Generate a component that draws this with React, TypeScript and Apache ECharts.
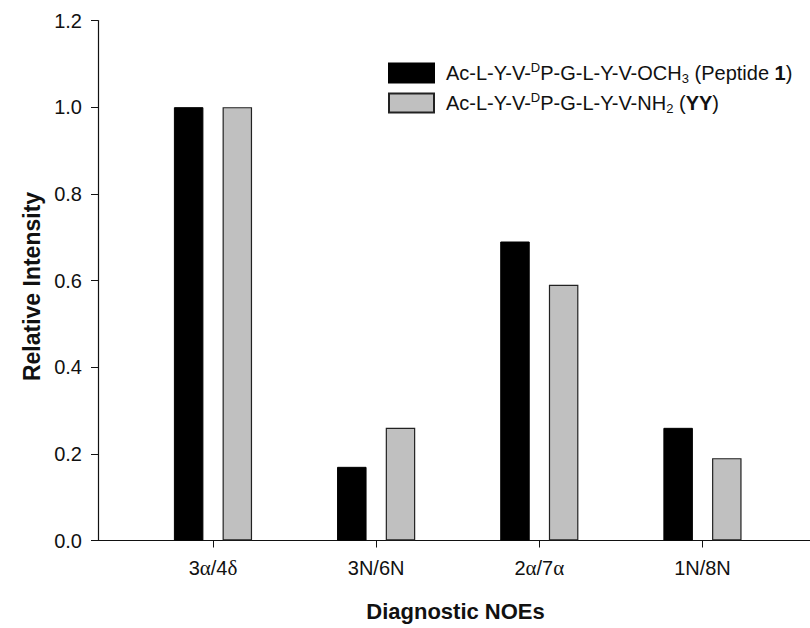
import React, { useEffect, useRef } from "react";
import * as echarts from "echarts";

// Diagnostic NOE categories (rich-text markup for the Greek letters) and x positions
const categories = ["3{g|α}/4{g|δ}", "3N/6N", "2{g|α}/7{g|α}", "1N/8N"];
const positions = [1, 2, 3, 4];

// Relative NOE intensities for the two peptides
const peptide1 = [1.0, 0.17, 0.69, 0.26];
const peptideYY = [1.0, 0.26, 0.59, 0.19];

const yTicks = [0, 0.2, 0.4, 0.6, 0.8, 1.0, 1.2];

const FONT = "'Liberation Sans', Arial, sans-serif";
const SERIF = "'Liberation Serif', 'Times New Roman', serif";
const INK = "#111";

export default function App() {
  const ref = useRef<HTMLDivElement>(null);

  useEffect(() => {
    document.body.style.margin = "0";
    if (!ref.current) return;
    const chart = echarts.init(ref.current, undefined, { renderer: "svg" });

    const legendRich = {
      n: { fontFamily: FONT, fontSize: 20, color: INK, lineHeight: 24 },
      sup: { fontFamily: FONT, fontSize: 13, color: INK, verticalAlign: "top", lineHeight: 24 },
      sub: { fontFamily: FONT, fontSize: 13, color: INK, verticalAlign: "bottom", lineHeight: 24 },
      b: { fontFamily: FONT, fontSize: 20, fontWeight: "bold", color: INK, lineHeight: 24 },
    };

    const names = ["Peptide 1", "YY"];
    const labels: Record<string, string> = {
      "Peptide 1": "{n|Ac-L-Y-V-}{sup|D}{n|P-G-L-Y-V-OCH}{sub|3}{n| (Peptide }{b|1}{n|)}",
      YY: "{n|Ac-L-Y-V-}{sup|D}{n|P-G-L-Y-V-NH}{sub|2}{n| (}{b|YY}{n|)}",
    };

    chart.setOption({
      animation: false,
      backgroundColor: "#fff",
      grid: {
        left: 98,
        top: 20.5,
        width: 735,
        height: 520,
        containLabel: false,
        outerBoundsMode: "none",
      },
      legend: {
        orient: "vertical",
        left: 388,
        top: 61,
        padding: 0,
        itemWidth: 45,
        itemHeight: 19,
        itemGap: 6,
        icon: "rect",
        data: names,
        formatter: (name: string) => labels[name],
        textStyle: { rich: legendRich, fontFamily: FONT, fontSize: 20, color: INK, padding: [0, 0, 0, 7] },
      },
      xAxis: {
        type: "value",
        min: 0.2953,
        max: 4.8,
        name: "Diagnostic NOEs",
        nameLocation: "middle",
        nameGap: 60,
        nameTextStyle: {
          fontFamily: FONT,
          fontSize: 22,
          fontWeight: "bold",
          color: INK,
          padding: [0, 20, 0, 0],
        },
        axisLine: { show: true, lineStyle: { color: INK, width: 1.2 } },
        axisTick: {
          show: true,
          length: 7,
          lineStyle: { color: INK },
          customValues: positions,
        },
        axisLabel: {
          customValues: positions,
          margin: 17,
          fontFamily: FONT,
          fontSize: 20,
          color: INK,
          formatter: (v: number) => categories[Math.round(v) - 1],
          rich: {
            g: { fontFamily: SERIF, fontSize: 21, color: INK },
          },
        },
        splitLine: { show: false },
      },
      yAxis: {
        type: "value",
        min: 0,
        max: 1.2,
        interval: 0.2,
        name: "Relative Intensity",
        nameLocation: "middle",
        nameGap: 50,
        nameTextStyle: {
          fontFamily: FONT,
          fontSize: 23,
          fontWeight: "bold",
          color: INK,
          padding: [0, 12, 0, 0],
        },
        axisLine: { show: true, lineStyle: { color: INK, width: 1.2 } },
        axisTick: { show: true, length: 7, lineStyle: { color: INK } },
        axisLabel: {
          margin: 16,
          fontFamily: FONT,
          fontSize: 20,
          color: INK,
          formatter: (v: number) => (yTicks.some((t) => Math.abs(t - v) < 1e-9) ? v.toFixed(1) : ""),
        },
        splitLine: { show: false },
      },
      series: [
        {
          name: "Peptide 1",
          type: "bar",
          barWidth: 29.5,
          barGap: "65%",
          data: positions.map((x, i) => [x, peptide1[i]]),
          itemStyle: { color: "#000", borderColor: "#000", borderWidth: 1 },
        },
        {
          name: "YY",
          type: "bar",
          barWidth: 29.5,
          barGap: "65%",
          data: positions.map((x, i) => [x, peptideYY[i]]),
          itemStyle: { color: "#c0c0c0", borderColor: "#222", borderWidth: 1.2 },
        },
      ],
    });

    return () => chart.dispose();
  }, []);

  return <div ref={ref} style={{ width: 810, height: 628 }} />;
}
